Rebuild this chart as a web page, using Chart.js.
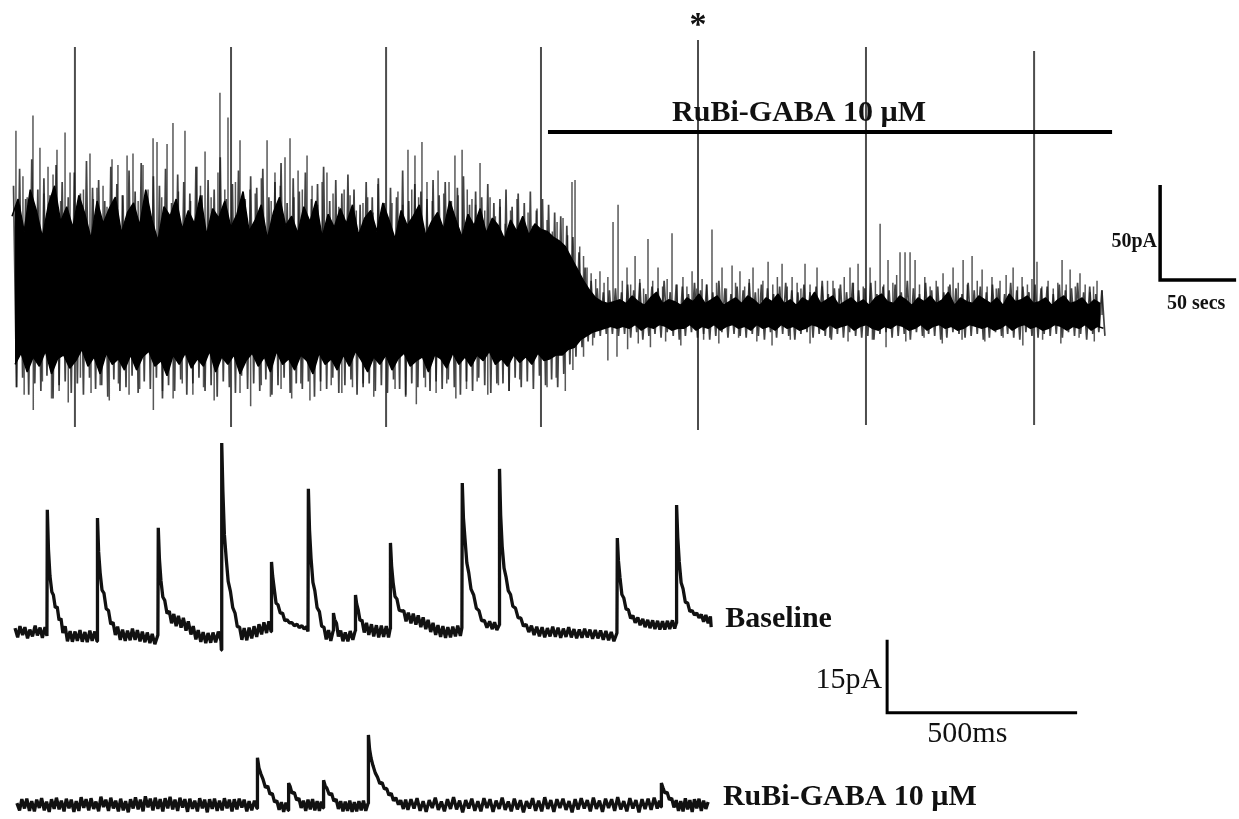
<!DOCTYPE html>
<html>
<head>
<meta charset="utf-8">
<script src="https://cdn.jsdelivr.net/npm/chart.js@4.4.1/dist/chart.umd.min.js"></script>
<style>
  html, body { margin: 0; padding: 0; background: #fff; }
  #wrap { position: relative; width: 1239px; height: 819px; }
</style>
</head>
<body>
<div id="wrap"><canvas id="trace" width="1239" height="819"></canvas></div>
<script>
// ---- slow recording (seconds, pA) ----
// solid band of the trace, one hi/lo pair every 4 s
const CORE_STEP = 4;
const coreHi = [
  52,61,44,66,55,41,58,68,49,57,
  46,63,53,40,60,48,56,62,43,54,
  59,47,66,50,39,57,52,61,45,55,
  48,63,42,56,51,60,46,53,65,44,
  50,58,40,54,62,47,52,43,57,49,
  60,41,53,46,56,48,58,42,51,55,
  44,59,50,40,55,47,52,58,42,49,
  54,45,60,50,41,53,47,56,43,51,
  47,40,50,44,52,42,48,45,44,41,
  39,36,30,24,18,13,9,7,6,7,
  8,6,10,7,5,9,12,6,8,7,
  5,9,7,11,6,8,10,5,7,9,
  6,10,8,5,9,7,11,6,8,5,
  9,7,12,6,8,10,5,7,9,6,
  8,5,9,11,7,6,10,8,5,9,
  7,10,6,8,12,5,9,7,6,10,
  8,6,9,5,11,7,8,10,6,7,
  9,5,8,10,6,7,9,5,8,6
];
const coreLo = [
  -26,-20,-30,-22,-27,-19,-31,-23,-21,-28,
  -24,-18,-27,-22,-31,-20,-26,-23,-29,-21,
  -29,-22,-19,-27,-24,-32,-21,-26,-20,-28,
  -23,-27,-19,-30,-22,-26,-21,-31,-24,-20,
  -27,-22,-30,-19,-26,-23,-29,-21,-24,-31,
  -20,-26,-23,-29,-21,-27,-19,-24,-30,-22,
  -26,-21,-29,-23,-20,-27,-24,-22,-30,-21,
  -23,-28,-20,-26,-22,-27,-21,-24,-19,-26,
  -23,-27,-21,-25,-22,-26,-20,-24,-23,-21,
  -21,-18,-17,-13,-11,-9,-8,-7,-6,-7,
  -6,-7,-5,-8,-6,-7,-5,-6,-8,-7,
  -7,-5,-8,-6,-7,-5,-8,-6,-5,-7,
  -6,-8,-5,-7,-6,-8,-5,-7,-6,-8,
  -7,-5,-6,-8,-5,-7,-6,-5,-8,-6,
  -5,-7,-8,-6,-7,-5,-6,-8,-7,-5,
  -8,-6,-5,-7,-6,-8,-7,-5,-6,-7,
  -6,-8,-7,-5,-8,-6,-5,-7,-6,-8,
  -7,-5,-6,-8,-6,-7,-5,-8,-6,-7
];
// grey fringe of frequent events around the band, same 4 s grid
const midHi = [
  68,77,61,82,66,72,63,79,70,62,
  75,64,81,67,71,60,78,69,63,76,
  65,80,62,73,68,77,59,74,70,64,
  78,63,71,66,83,61,69,76,60,73,
  67,77,62,70,80,59,72,65,75,61,
  69,78,60,71,64,74,66,58,70,62,
  72,59,67,62,76,60,69,65,61,71,
  63,70,60,67,73,58,65,62,69,59,
  61,66,57,64,59,65,55,61,58,54,
  52,47,41,33,25,18,14,12,13,14,
  12,16,13,17,11,15,14,18,12,16,
  15,11,17,13,16,12,18,14,11,15,
  13,17,12,16,14,11,15,17,13,12,
  16,12,15,18,11,14,16,12,17,13,
  14,17,11,15,13,16,12,18,14,11,
  17,13,15,12,16,14,11,17,13,15,
  12,16,14,11,17,13,15,12,16,14,
  15,11,16,13,14,17,12,15,11,13
];
const midLo = [
  -38,-33,-42,-36,-40,-32,-44,-37,-35,-41,
  -36,-42,-33,-39,-37,-43,-34,-40,-38,-32,
  -41,-35,-39,-33,-44,-37,-40,-34,-42,-36,
  -33,-40,-37,-43,-35,-38,-41,-32,-39,-36,
  -40,-34,-42,-37,-33,-41,-36,-39,-35,-43,
  -35,-39,-33,-41,-37,-34,-42,-38,-36,-40,
  -37,-41,-34,-39,-43,-36,-38,-33,-40,-35,
  -39,-34,-38,-42,-35,-40,-33,-37,-41,-36,
  -36,-40,-33,-38,-35,-39,-32,-37,-34,-38,
  -31,-26,-22,-17,-14,-12,-11,-10,-10,-11,
  -10,-12,-9,-13,-11,-10,-12,-9,-11,-13,
  -11,-9,-12,-10,-13,-11,-9,-12,-10,-11,
  -12,-10,-11,-13,-9,-12,-10,-11,-13,-10,
  -9,-12,-10,-11,-13,-10,-12,-9,-11,-12,
  -11,-13,-10,-9,-12,-11,-10,-13,-9,-11,
  -10,-11,-13,-12,-9,-10,-12,-11,-10,-13,
  -12,-9,-11,-10,-12,-13,-9,-11,-12,-10,
  -11,-10,-12,-9,-11,-10,-13,-10,-9,-11
];
// large events standing out of the band [time s, pA]
const upSpikes = [
  [2.6,97],[5,58],[7.2,73],[10,62],[13.8,105],[16,55],[18.4,88],[21,64],[23.7,78],[27,74],
  [29.6,87],[32,60],[34.9,96],[38.2,75],[44,58],[47,66],[51.3,85],[53.5,61],[55.9,67],[59.9,68],
  [62.5,57],[65.8,82],[69.7,79],[72.5,63],[75.7,84],[79.6,85],[83,60],[86.2,79],[89.5,66],[92.8,93],
  [95.4,91],[98.5,62],[102,90],[105.9,101],[109.5,65],[113.8,97],[117.5,60],[121.7,78],[124,68],[127,86],
  [131,62],[135.5,75],[136.8,117],[140,66],[142.1,104],[147,70],[150,92],[153.5,61],[156.6,66],[160,64],
  [164,72],[167.8,92],[170.5,60],[173,75],[176.5,68],[179.6,83],[182.9,93],[185.5,62],[188.2,76],[191,66],
  [194.1,84],[197.4,68],[201,58],[204,70],[207.2,75],[211.2,64],[215,57],[218.5,66],[222.4,63],[226.5,55],
  [230.9,59],[234,62],[237.5,54],[240.8,69],[244.5,57],[250,59],[253.9,65],[257,58],[260.5,87],[263,66],
  [265.1,84],[267.5,62],[269.7,91],[273,70],[276.5,60],[280.3,76],[284,64],[287.5,70],[291.4,84],[293.5,63],
  [296.1,87],[299.5,66],[302.6,61],[305,58],[307.9,80],[311,55],[314.5,62],[318,52],[321.1,57],[324.5,48],
  [328,55],[332.2,61],[336,50],[339.5,54],[342.5,47],[345.4,56],[349,45],[352,50],[355.5,44],[358.6,49],
  [362.5,51],[365.5,42],[368.4,70],[370.4,71],[373.5,36],[376,31],[378.3,25],[381,22],[384,19],[386.8,23],
  [389.5,17],[392,20],[395.4,49],[398.7,58],[401.5,18],[404.6,25],[407,16],[409.9,31],[413,19],[415.5,14],
  [418.4,40],[421.5,18],[425,25],[428,15],[431,19],[434.2,43],[437.5,16],[441.4,20],[444,15],[447.4,23],
  [450.5,14],[454,19],[457,16],[460.5,45],[463.5,17],[467.1,25],[470,14],[473.7,26],[476,17],[478.9,23],
  [482,15],[485,19],[487.5,25],[491,14],[494,18],[497.4,28],[500.5,16],[503.5,20],[506.6,27],[510,15],
  [513.2,20],[516.5,17],[519,14],[521.7,27],[525,16],[529.6,25],[533,15],[536.5,18],[540.1,18],[544,14],
  [547.5,20],[551.3,25],[553.5,17],[556.6,27],[560,15],[564.5,25],[568,18],[571.1,48],[573.5,16],[576.3,29],
  [579.5,17],[582,21],[584.2,33],[587.5,33],[590.8,33],[594.1,29],[597,16],[600.5,20],[604,15],[608,18],
  [612.5,22],[616,15],[619.1,25],[622.5,17],[625.7,29],[628.5,16],[631.6,31],[635,18],[638.2,24],[641.5,15],
  [644.7,20],[647.5,14],[650,18],[654,21],[658.6,25],[661.5,15],[664.5,20],[668,16],[671,19],[674.3,28],
  [677.5,15],[681.6,18],[685,14],[688,17],[690.8,29],[693.5,16],[696.1,24],[699.5,15],[702.6,22],[706,16],
  [709.2,12],[711.5,15],[713.8,18],[717.1,13]
];
const downSpikes = [
  [3,-38],[8,-42],[14,-50],[20,-35],[26,-44],[31,-40],[37,-46],[45,-33],[52,-41],[58,-37],
  [64,-45],[70,-36],[77,-42],[84,-39],[93,-50],[99,-40],[106,-44],[112,-36],[119,-42],[126,-38],
  [133,-45],[150,-41],[157,-48],[164,-37],[170,-43],[177,-39],[184,-44],[190,-36],[196,-45],[203,-40],
  [210,-37],[217,-41],[224,-38],[231,-36],[238,-43],[252,-39],[259,-42],[266,-47],[272,-38],[279,-41],
  [286,-36],[292,-44],[299,-39],[306,-35],[313,-42],[320,-37],[327,-40],[334,-34],[352,-38],[358,-33],
  [364,-40],[369,-29],[376,-22],[382,-16],[392,-24],[398,-22],[405,-18],[412,-15],[420,-17],[430,-14],
  [440,-16],[455,-13],[465,-15],[478,-12],[490,-14],[500,-16],[512,-13],[525,-15],[538,-12],[550,-14],
  [566,-13],[575,-17],[588,-14],[600,-12],[612,-15],[625,-13],[640,-14],[652,-12],[665,-16],[678,-13],
  [690,-15],[702,-12],[712,-14]
];
// photolysis artifacts (s) and their extent (pA)
const artifactTimes = [41.4, 144.1, 246.1, 348.0, 451.3, 561.8, 672.4];
const artifactHigh  = [141, 141, 141, 141, 144.7, 141, 139];
const artifactLow   = [-58.9, -58.9, -58.9, -58.9, -60.5, -57.9, -57.9];
const drugStart = 352.6, drugEnd = 723.7, drugLevel = 96.3;
const slowBarT = 755.3, slowBarI = 18.4, slowBarDT = 50, slowBarDI = 50;

// ---- fast sweeps (ms, pA) ----
const baselineTrace = [
  [0,0.8],[7,-1.1],[13,1.2],[20,-0.6],[26,1.0],[33,-1.3],[39,0.5],[46,-0.9],[53,1.3],[59,-0.7],[66,0.9],[72,-1.2],[79,1.0],[84,-0.8],
  [85,25.1],[88,17],[92,11.5],[97,8.2],[101,7.6],[106,5.0],[111,5.2],[116,2.4],[121,2.8],[126,-0.2],[132,1.2],[138,-1.9],[145,0.2],[151,-2.0],[158,0.1],[164,-1.8],[171,0.4],[177,-2.0],[184,0.0],[190,-2.1],[197,0.3],[203,-1.8],[210,0.1],[216,-1.9],
  [217,23.4],[220,16.5],[224,12.2],[229,8.6],[234,8.0],[240,4.8],[246,4.4],[252,1.6],[258,2.0],[264,-0.6],[270,1.1],[277,-1.6],[283,0.5],[290,-1.8],[296,0.3],[303,-1.7],[309,0.7],[316,-1.6],[322,0.4],[329,-1.9],[335,0.1],[342,-2.1],[348,-0.1],[355,-2.3],[361,-0.4],[368,-2.5],[376,-0.6],
  [377,21.4],[380,15],[384,10.6],[389,7.2],[394,6.5],[400,3.8],[406,4.3],[412,1.8],[418,3.7],[424,1.2],[430,3.3],[437,0.9],[443,2.9],[450,0.3],[456,2.2],[463,-0.5],[469,1.2],[476,-1.5],[482,0.4],[489,-2.0],[495,0.0],[502,-2.3],[508,-0.2],[515,-2.2],[521,-0.1],[528,-2.1],[535,0.1],[542,-1.8],
  [543,-3.7],[544,38.8],[547,29],[551,20],[556,14.9],[561,10.4],[567,8.3],[573,5.0],[579,3.9],[585,1.1],[591,1.0],[597,-1.6],[603,0.8],[610,-1.7],[616,0.9],[623,-1.3],[629,1.2],[636,-1.0],[642,1.6],[649,-0.5],[655,2.0],[662,-0.2],[668,2.2],[674,0.1],
  [675,14.4],[678,11.5],[682,9.0],[687,5.9],[692,5.6],[698,3.9],[704,3.9],[710,2.3],[716,2.5],[722,1.9],[729,1.9],[735,1.3],[742,1.6],[748,0.9],[755,1.3],[761,0.6],[767,1.1],[771,0.1],
  [772,29.4],[775,21],[779,15.2],[784,10.2],[789,8.5],[795,5.0],[801,4.2],[807,1.2],[813,1.0],[819,-1.5],[825,0.4],[831,-1.8],[837,0.2],
  [838,3.9],[841,2.6],[846,1.8],[851,-0.9],[857,0.3],[863,-1.9],[869,-0.1],[876,-1.9],[882,0.2],[889,-1.6],[895,0.2],
  [896,7.6],[899,5.8],[903,4.6],[908,2.3],[913,2.5],[919,-0.1],[925,1.9],[931,-0.6],[938,1.6],[944,-0.9],[951,1.4],[957,-1.1],[964,1.3],[970,-1.0],[977,1.2],[983,-1.1],[987,0.6],
  [988,18.3],[991,13.6],[995,10.2],[1000,7.3],[1005,6.8],[1011,4.5],[1017,4.3],[1023,4.4],[1029,2.2],[1035,4.0],[1042,1.8],[1048,3.8],[1055,1.5],[1061,3.4],[1068,1.0],[1074,3.0],[1081,0.6],[1087,2.5],[1094,0.0],[1100,1.9],[1107,-0.6],[1113,1.4],[1120,-1.0],[1126,1.2],[1133,-1.2],[1139,1.0],[1146,-1.1],[1152,1.1],[1159,-0.9],[1165,1.3],[1172,-0.8],[1176,0.9],
  [1177,30.6],[1180,23.5],[1184,19.3],[1189,14.2],[1194,12.2],[1200,8.8],[1207,7.6],[1214,4.9],[1221,4.4],[1228,2.3],[1235,2.4],[1242,0.9],[1249,2.2],[1256,0.6],[1262,2.0],[1268,0.4],[1274,1.4],
  [1275,33.5],[1278,24],[1282,17.6],[1287,13.1],[1292,11.4],[1298,8.5],[1304,7.7],[1310,5.3],[1317,4.9],[1324,2.9],[1331,2.9],[1338,1.2],[1345,1.6],[1352,0.0],[1359,1.3],[1366,-0.6],[1373,1.1],[1380,-0.9],[1387,1.0],[1394,-1.1],[1401,0.8],[1408,-0.9],[1415,1.1],[1422,-1.0],[1429,0.9],[1436,-1.2],[1443,0.7],[1450,-1.0],[1457,1.0],[1464,-1.1],[1471,0.6],[1478,-1.3],[1485,0.5],[1492,-1.2],[1499,0.7],[1506,-1.1],[1513,0.5],[1520,-1.4],[1527,0.4],[1534,-1.3],[1541,0.3],[1548,-1.6],[1555,0.2],[1562,-1.7],[1569,0.0],[1576,-1.9],[1584,-0.2],
  [1585,19.3],[1588,14.6],[1592,11.2],[1597,7.7],[1602,7.0],[1608,4.7],[1614,4.6],[1620,2.8],[1626,3.4],[1632,1.9],[1639,3.0],[1645,1.4],[1652,2.7],[1658,1.0],[1665,2.5],[1671,0.8],[1678,2.4],[1684,0.6],[1691,2.3],[1697,0.5],[1704,2.2],[1710,0.5],[1717,2.3],[1723,0.6],[1730,2.4],[1736,0.7],[1740,1.8],
  [1741,26.1],[1744,19.5],[1748,14.4],[1753,10.1],[1758,8.9],[1764,6.1],[1770,6.0],[1776,4.2],[1782,4.4],[1788,3.5],[1794,3.9],[1800,2.9],[1806,3.6],[1812,2.1],[1818,3.5],[1824,1.8],[1830,3.2],[1832,1.0]
];
const rubiTrace = [
  [5,0.4],[12,-1.1],[18,1.2],[25,-0.7],[31,1.3],[38,-1.2],[44,0.8],[51,-1.3],[57,1.1],[64,-0.6],[70,1.4],[77,-1.1],[83,0.7],[90,-1.4],[96,1.2],[103,-0.8],[109,1.5],[116,-0.9],[122,0.9],[129,-1.3],
  [135,1.3],[142,-0.7],[148,1.1],[155,-1.4],[161,0.8],[168,-1.2],[174,1.6],[181,-0.6],[187,1.2],[194,-1.1],[200,1.4],[207,-0.8],[213,0.7],[220,-1.3],[226,1.7],[233,-0.4],[239,1.1],[246,-1.2],[252,1.5],[259,-0.7],
  [265,0.9],[272,-1.3],[278,1.3],[285,-1.1],[291,0.8],[298,-1.5],[304,1.2],[311,-0.7],[317,1.6],[324,-0.9],[330,1.1],[337,-1.3],[343,1.8],[350,-0.5],[356,1.3],[363,-1.1],[369,1.5],[376,-0.8],[382,1.2],[389,-1.3],
  [395,1.4],[402,-0.7],[408,1.7],[415,-0.9],[421,1.1],[428,-1.2],[434,1.5],[441,-0.5],[447,1.2],[454,-1.4],[460,1.3],[467,-0.8],[473,0.9],[480,-1.3],[486,1.4],[493,-0.7],[499,1.1],[506,-1.5],[512,1.2],[519,-0.8],
  [525,1.3],[532,-1.2],[538,0.9],[545,-1.1],[551,1.4],[558,-0.7],[564,1.1],[571,-1.3],[577,1.2],[584,-0.9],[590,1.3],[597,-0.5],[603,1.1],[610,-1.3],[616,0.8],[623,-1.1],[630,0.9],[637,-0.7],
  [638,9.7],[642,7.6],[647,6.4],[653,5.2],[659,3.6],[665,3.9],[671,2.2],[677,2.4],[683,0.6],[689,0.9],[695,-1.0],[701,0.6],[707,-1.4],[713,0.5],[719,-1.1],
  [720,4.5],[724,3.8],[729,2.4],[735,2.6],[741,1.0],[747,1.4],[753,-0.6],[759,0.9],[765,-1.2],[771,1.1],[777,-0.9],[783,1.2],[789,-1.1],[795,0.8],[801,-1.2],[806,0.7],[811,-0.6],
  [812,5.1],[816,4.0],[821,3.4],[827,2.1],[833,2.4],[839,0.8],[845,1.2],[851,-0.8],[857,0.8],[863,-1.3],[869,0.7],[875,-1.2],[881,0.9],[887,-1.4],[893,0.6],[899,-1.3],[905,0.8],[911,-1.1],[917,0.9],[923,-1.2],[929,0.3],
  [930,14.4],[933,11.5],[937,9.6],[942,8.1],[948,6.6],[954,5.7],[960,4.4],[966,4.6],[972,3.3],[978,3.4],[984,2.0],[990,2.4],[996,0.9],[1002,1.5],[1009,0.1],[1015,1.0],[1022,-0.8],[1028,1.1],
  [1034,-1.0],[1042,1.2],[1050,-0.7],[1058,1.4],[1066,-1.2],[1074,0.8],[1082,-1.4],[1090,1.0],[1098,-0.6],[1106,1.5],[1114,-1.0],[1122,0.7],[1130,-1.3],[1138,1.2],[1146,-0.8],[1154,1.6],[1162,-0.9],[1170,0.9],[1178,-1.5],[1186,1.0],
  [1194,-0.7],[1202,1.3],[1210,-1.2],[1218,0.8],[1226,-1.3],[1234,1.4],[1242,-0.6],[1250,1.2],[1258,-1.4],[1266,0.9],[1274,-0.8],[1282,1.5],[1290,-1.0],[1298,0.7],[1306,-1.3],[1314,1.3],[1322,-0.9],[1330,1.0],[1338,-1.5],[1346,0.8],
  [1354,-0.7],[1362,1.4],[1370,-1.2],[1378,0.9],[1386,-1.3],[1394,1.6],[1402,-0.8],[1410,1.0],[1418,-1.4],[1426,1.2],[1434,-0.6],[1442,1.3],[1450,-1.0],[1458,0.8],[1466,-1.5],[1474,1.2],[1482,-0.9],[1490,1.4],[1498,-0.7],[1506,1.0],
  [1514,-1.3],[1522,1.5],[1530,-0.8],[1538,0.9],[1546,-1.4],[1554,1.3],[1562,-0.6],[1570,1.2],[1578,-1.2],[1586,1.6],[1594,-0.9],[1602,0.8],[1610,-1.3],[1618,1.4],[1626,-0.7],[1634,1.0],[1642,-1.5],[1650,1.2],[1658,-0.8],[1666,1.3],
  [1674,-1.0],[1682,1.5],[1690,-0.7],[1696,0.9],[1700,-0.4],
  [1701,4.5],[1705,3.6],[1710,2.5],[1716,2.6],[1722,1.1],[1728,1.4],[1734,-0.5],[1740,1.0],[1746,-1.2],[1752,0.8],[1758,-1.3],[1764,1.4],[1770,-0.9],[1776,1.0],[1782,-1.4],[1788,1.2],[1794,-0.7],[1800,1.3],[1806,-1.2],[1812,0.9],[1818,-0.8],[1824,0.6]
];
const fastBarT = 2295, fastBarI = -16.6, fastBarDT = 500, fastBarDI = 15;

const textLabels = [
  { text: '*', x: 451.3, y: 147.4, xs: 'xSec', ys: 'ySlow', font: 'bold 34px "Liberation Serif"', align: 'center' },
  { text: 'RuBi-GABA 10 \u00b5M', x: 517.8, y: 102.1, xs: 'xSec', ys: 'ySlow', font: 'bold 30px "Liberation Serif"', align: 'center' },
  { text: '50pA', x: 753.3, y: 35.8, xs: 'xSec', ys: 'ySlow', font: 'bold 20px "Liberation Serif"', align: 'right' },
  { text: '50 secs', x: 779, y: 3.2, xs: 'xSec', ys: 'ySlow', font: 'bold 20px "Liberation Serif"', align: 'center' },
  { text: 'Baseline', x: 1869, y: 1.0, xs: 'xMs', ys: 'yBase', font: 'bold 30px "Liberation Serif"', align: 'left' },
  { text: '15pA', x: 2282, y: -11.5, xs: 'xMs', ys: 'yBase', font: '30px "Liberation Serif"', align: 'right' },
  { text: '500ms', x: 2506, y: -22.6, xs: 'xMs', ys: 'yBase', font: '30px "Liberation Serif"', align: 'center' },
  { text: 'RuBi-GABA 10 \u00b5M', x: 1863, y: 0, xs: 'xMs', ys: 'yRubi', font: 'bold 30px "Liberation Serif"', align: 'left' }
];

// ---- build datasets ----
function stems(list) {
  const pts = [];
  for (const [t, a] of list) pts.push({ x: t, y: 0 }, { x: t, y: a }, { x: t, y: null });
  return pts;
}
const coreTop = coreHi.map((v, i) => ({ x: i * CORE_STEP, y: v }));
const coreBottom = coreLo.map((v, i) => ({ x: i * CORE_STEP + CORE_STEP / 2, y: v }));
const fringe = [];
for (let i = 0; i < midHi.length; i++) {
  fringe.push({ x: i * CORE_STEP + 1, y: midHi[i] });
  fringe.push({ x: i * CORE_STEP + 3, y: midLo[i] });
}
const artifactPts = [];
artifactTimes.forEach((t, i) => {
  artifactPts.push({ x: t, y: artifactLow[i] }, { x: t, y: artifactHigh[i] }, { x: t, y: null });
});
const toXY = arr => arr.map(([x, y]) => ({ x, y }));

const slow = { xAxisID: 'xSec', yAxisID: 'ySlow' };
const fast = { xAxisID: 'xMs', yAxisID: 'yBase' };

const datasets = [
  Object.assign({ data: coreTop, borderColor: '#000', borderWidth: 1.5, backgroundColor: '#000', fill: '+1', order: 1 }, slow),
  Object.assign({ data: coreBottom, borderColor: '#000', borderWidth: 1.5, order: 1 }, slow),
  Object.assign({ data: fringe, borderColor: 'rgba(20,20,20,0.8)', borderWidth: 1.7, order: 2 }, slow),
  Object.assign({ data: stems(upSpikes), borderColor: 'rgba(70,70,70,0.9)', borderWidth: 1.5, order: 2 }, slow),
  Object.assign({ data: stems(downSpikes), borderColor: 'rgba(70,70,70,0.9)', borderWidth: 1.5, order: 2 }, slow),
  Object.assign({ data: artifactPts, borderColor: '#4d4d4d', borderWidth: 2, order: 3 }, slow),
  Object.assign({ data: [{ x: drugStart, y: drugLevel }, { x: drugEnd, y: drugLevel }], borderColor: '#000', borderWidth: 4, order: 0 }, slow),
  Object.assign({ data: [{ x: slowBarT, y: slowBarI + slowBarDI }, { x: slowBarT, y: slowBarI }, { x: slowBarT + slowBarDT, y: slowBarI }], borderColor: '#000', borderWidth: 3.5, borderJoinStyle: 'miter', order: 0 }, slow),
  Object.assign({ data: toXY(baselineTrace), borderColor: '#111', borderWidth: 3.3 }, fast),
  { data: toXY(rubiTrace), borderColor: '#111', borderWidth: 3.3, xAxisID: 'xMs', yAxisID: 'yRubi' },
  Object.assign({ data: [{ x: fastBarT, y: fastBarI + fastBarDI }, { x: fastBarT, y: fastBarI }, { x: fastBarT + fastBarDT, y: fastBarI }], borderColor: '#000', borderWidth: 3, borderJoinStyle: 'miter' }, fast)
];
datasets.forEach(d => {
  d.pointRadius = 0;
  d.tension = 0;
  if (d.fill === undefined) d.fill = false;
  d.spanGaps = false;
  if (!d.borderJoinStyle) d.borderJoinStyle = 'bevel';
});

const labelPlugin = {
  id: 'traceLabels',
  afterDatasetsDraw(chart) {
    const c = chart.ctx;
    c.save();
    c.fillStyle = '#111';
    c.textBaseline = 'alphabetic';
    for (const l of textLabels) {
      c.font = l.font;
      c.textAlign = l.align;
      c.fillText(l.text, chart.scales[l.xs].getPixelForValue(l.x), chart.scales[l.ys].getPixelForValue(l.y));
    }
    c.restore();
  }
};

const hidden = (min, max) => ({ type: 'linear', display: false, min: min, max: max });

new Chart(document.getElementById('trace').getContext('2d'), {
  type: 'line',
  data: { datasets: datasets },
  options: {
    responsive: false,
    animation: false,
    devicePixelRatio: 1,
    events: [],
    layout: { padding: 0 },
    plugins: { legend: { display: false }, tooltip: { enabled: false } },
    scales: {
      xSec: Object.assign(hidden(-7.89, 807.2), { axis: 'x' }),
      ySlow: Object.assign(hidden(-265.3, 165.8), { axis: 'y' }),
      xMs: Object.assign(hidden(-39.5, 3221), { axis: 'x' }),
      yBase: Object.assign(hidden(-38.4, 129.8), { axis: 'y' }),
      yRubi: Object.assign(hidden(-2.87, 165.3), { axis: 'y' })
    }
  },
  plugins: [labelPlugin]
});
</script>
</body>
</html>
